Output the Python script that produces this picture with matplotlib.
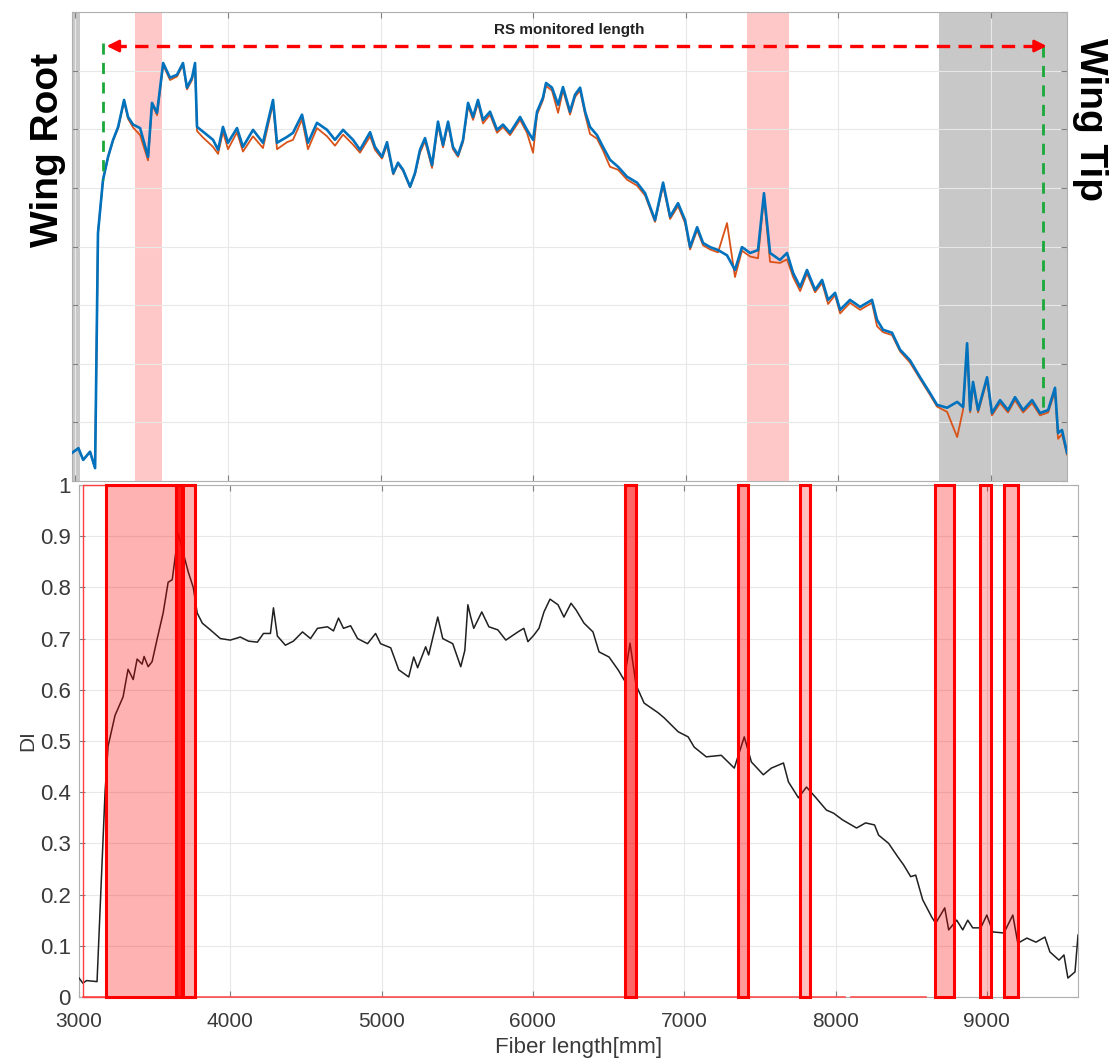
import matplotlib
matplotlib.use('Agg')
import matplotlib.pyplot as plt

plt.rcParams['font.family'] = ['Liberation Sans', 'DejaVu Sans']

# top panel: strain-like traces along the fibre (grid units, no labels)
top_x = [2978, 3020, 3051, 3096, 3129, 3148, 3181, 3214, 3247, 3280, 3319, 3345, 3378, 3424, 3476,
         3502, 3535, 3575, 3620, 3666, 3705, 3731, 3764, 3784, 3797, 3836, 3902, 3935, 3967, 4000,
         4059, 4098, 4164, 4229, 4295, 4321, 4387, 4426, 4485, 4524, 4583, 4649, 4701, 4754, 4819,
         4865, 4931, 4963, 5009, 5042, 5083, 5114, 5147, 5193, 5225, 5258, 5291, 5337, 5376, 5409,
         5442, 5474, 5507, 5540, 5573, 5606, 5638, 5671, 5717, 5763, 5802, 5848, 5914, 5959, 5999,
         6025, 6064, 6084, 6123, 6163, 6195, 6241, 6274, 6307, 6340, 6372, 6418, 6457, 6503, 6556,
         6615, 6680, 6733, 6798, 6851, 6897, 6949, 6995, 7028, 7074, 7113, 7159, 7211, 7270, 7322,
         7368, 7421, 7473, 7512, 7552, 7617, 7663, 7703, 7749, 7794, 7847, 7893, 7932, 7978, 8011,
         8076, 8142, 8220, 8253, 8292, 8351, 8404, 8469, 8535, 8600, 8646, 8712, 8778, 8817, 8843,
         8863, 8882, 8915, 8974, 9006, 9059, 9111, 9157, 9210, 9269, 9321, 9374, 9419, 9439, 9465,
         9498]
blue_y = [0.48, 0.56, 0.36, 0.50, 0.22, 4.23, 5.14, 5.53, 5.82, 6.04, 6.50, 6.21, 6.08, 6.02, 5.53,
          6.45, 6.28, 7.13, 6.88, 6.93, 7.13, 6.71, 6.88, 7.13, 6.04, 5.96, 5.82, 5.65, 6.04, 5.77,
          6.02, 5.70, 5.99, 5.77, 6.50, 5.77, 5.87, 5.94, 6.25, 5.77, 6.11, 5.99, 5.82, 5.99, 5.82,
          5.65, 5.95, 5.70, 5.53, 5.78, 5.25, 5.43, 5.31, 5.02, 5.25, 5.65, 5.85, 5.39, 6.13, 5.73,
          6.13, 5.70, 5.56, 5.82, 6.45, 6.21, 6.50, 6.16, 6.30, 5.99, 6.08, 5.94, 6.21, 5.99, 5.82,
          6.30, 6.54, 6.79, 6.71, 6.42, 6.72, 6.30, 6.59, 6.71, 6.30, 6.04, 5.90, 5.70, 5.48, 5.36,
          5.19, 5.09, 4.91, 4.45, 5.09, 4.51, 4.74, 4.45, 3.99, 4.33, 4.06, 3.99, 3.94, 3.85, 3.60,
          3.99, 3.89, 3.94, 4.91, 3.89, 3.77, 3.89, 3.55, 3.31, 3.60, 3.26, 3.43, 3.09, 3.21, 2.92,
          3.09, 2.97, 3.09, 2.75, 2.58, 2.53, 2.24, 2.06, 1.77, 1.50, 1.30, 1.25, 1.35, 1.26, 2.35,
          1.21, 1.69, 1.21, 1.77, 1.16, 1.38, 1.21, 1.43, 1.21, 1.38, 1.16, 1.21, 1.59, 0.82, 0.87,
          0.48]
orange_y = [0.48, 0.56, 0.36, 0.50, 0.22, 4.23, 5.14, 5.52, 5.81, 6.02, 6.48, 6.18, 6.03, 5.90, 5.47,
            6.43, 6.24, 7.10, 6.84, 6.90, 7.10, 6.68, 6.84, 7.10, 5.97, 5.86, 5.70, 5.58, 5.96, 5.66,
            5.95, 5.62, 5.88, 5.68, 6.44, 5.66, 5.78, 5.82, 6.17, 5.66, 6.02, 5.88, 5.72, 5.91, 5.74,
            5.60, 5.88, 5.65, 5.50, 5.73, 5.23, 5.41, 5.29, 5.01, 5.23, 5.60, 5.80, 5.34, 6.07, 5.69,
            6.09, 5.66, 5.53, 5.78, 6.40, 6.16, 6.45, 6.10, 6.25, 5.94, 6.04, 5.90, 6.16, 5.94, 5.60,
            6.25, 6.50, 6.74, 6.66, 6.28, 6.67, 6.25, 6.55, 6.66, 6.25, 5.92, 5.84, 5.64, 5.36, 5.31,
            5.14, 5.04, 4.87, 4.42, 5.04, 4.47, 4.69, 4.40, 3.95, 4.28, 4.02, 3.95, 3.90, 4.40, 3.48,
            3.93, 3.83, 3.80, 4.85, 3.74, 3.72, 3.78, 3.48, 3.24, 3.54, 3.22, 3.38, 3.02, 3.17, 2.86,
            3.04, 2.92, 3.04, 2.64, 2.54, 2.49, 2.21, 2.02, 1.74, 1.47, 1.27, 1.18, 0.75, 1.22, 2.28,
            1.17, 1.63, 1.17, 1.72, 1.12, 1.33, 1.17, 1.38, 1.17, 1.33, 1.12, 1.17, 1.53, 0.72, 0.80,
            0.45]

grey_spans = [(2978, 3030), (8660, 9498)]
pink_spans = [(3392, 3569), (7399, 7673)]
root_mark_x, root_mark_y = 3183, 5.14
tip_mark_x, tip_mark_y = 9342, 1.21
arrow_x = (3205, 9365)
arrow_y = 7.42

# bottom panel: damage index
di_x = [3000, 3025, 3050, 3119, 3172, 3192, 3238, 3291, 3324, 3358, 3384, 3417, 3430, 3457, 3483,
        3517, 3556, 3589, 3616, 3656, 3689, 3722, 3755, 3781, 3815, 3868, 3934, 4000, 4066, 4120,
        4179, 4219, 4265, 4285, 4311, 4364, 4417, 4477, 4530, 4576, 4642, 4682, 4715, 4748, 4795,
        4841, 4907, 4960, 4993, 5060, 5113, 5179, 5212, 5238, 5291, 5311, 5371, 5404, 5470, 5523,
        5550, 5570, 5589, 5609, 5662, 5709, 5768, 5821, 5901, 5940, 5967, 6007, 6040, 6073, 6113,
        6166, 6205, 6252, 6285, 6338, 6397, 6437, 6503, 6563, 6603, 6642, 6682, 6735, 6828, 6868,
        6960, 7026, 7066, 7146, 7245, 7331, 7397, 7444, 7523, 7576, 7656, 7689, 7755, 7808, 7868,
        7940, 7987, 8046, 8139, 8199, 8258, 8285, 8351, 8411, 8450, 8497, 8530, 8576, 8636, 8662,
        8722, 8748, 8801, 8841, 8874, 8907, 8960, 9000, 9040, 9113, 9172, 9205, 9265, 9325, 9384,
        9417, 9477, 9510, 9536, 9583, 9603]
di_y = [0.037, 0.027, 0.032, 0.030, 0.40, 0.49, 0.55, 0.586, 0.64, 0.62, 0.66, 0.65, 0.665, 0.645, 0.655,
        0.70, 0.75, 0.81, 0.815, 0.905, 0.867, 0.83, 0.80, 0.75, 0.73, 0.717, 0.70, 0.697, 0.703, 0.695,
        0.693, 0.71, 0.71, 0.76, 0.705, 0.687, 0.695, 0.713, 0.70, 0.72, 0.723, 0.715, 0.74, 0.72, 0.725,
        0.70, 0.69, 0.71, 0.69, 0.682, 0.639, 0.625, 0.664, 0.643, 0.684, 0.668, 0.742, 0.70, 0.69, 0.645,
        0.677, 0.766, 0.742, 0.72, 0.752, 0.723, 0.717, 0.697, 0.713, 0.72, 0.694, 0.707, 0.72, 0.752, 0.777,
        0.766, 0.742, 0.769, 0.756, 0.73, 0.713, 0.674, 0.664, 0.639, 0.619, 0.691, 0.609, 0.574, 0.555, 0.545,
        0.518, 0.508, 0.488, 0.469, 0.472, 0.447, 0.508, 0.459, 0.434, 0.447, 0.457, 0.42, 0.389, 0.41, 0.39,
        0.365, 0.359, 0.346, 0.33, 0.34, 0.336, 0.316, 0.30, 0.274, 0.258, 0.235, 0.238, 0.19, 0.156, 0.144,
        0.174, 0.131, 0.15, 0.131, 0.15, 0.135, 0.135, 0.16, 0.127, 0.125, 0.16, 0.105, 0.115, 0.107, 0.117,
        0.088, 0.072, 0.082, 0.037, 0.049, 0.121]

# detected regions (start, end) and how strongly they are filled
det_start = [3176, 3642, 3680, 6609, 7358, 7768, 8656, 8954, 9113]
det_end = [3642, 3687, 3768, 6682, 7424, 7834, 8781, 9026, 9205]
det_fill = [0.3, 0.9, 0.3, 0.6, 0.4, 0.25, 0.3, 0.25, 0.3]
thin_start, thin_end = 3025, 3177
baseline_spans = [(3025, 8060), (8100, 8600)]

xticks = [3000, 4000, 5000, 6000, 7000, 8000, 9000]
yticks = [0, 0.1, 0.2, 0.3, 0.4, 0.5, 0.6, 0.7, 0.8, 0.9, 1]
ytick_labels = ['0', '0.1', '0.2', '0.3', '0.4', '0.5', '0.6', '0.7', '0.8', '0.9', '1']

fig = plt.figure(figsize=(11.1, 10.64), dpi=100, facecolor='w')

# ---- top panel
ax1 = fig.add_axes([0.0649, 0.5479, 0.8964, 0.4408])
for a, b in grey_spans:
    ax1.axvspan(a, b, color='#c8c8c8', lw=0, zorder=0)
for a, b in pink_spans:
    ax1.axvspan(a, b, color='#ffc8c8', lw=0, zorder=0)
ax1.plot(top_x, orange_y, color='#D95319', lw=1.3, zorder=3)
ax1.plot(top_x, blue_y, color='#0072BD', lw=1.9, zorder=4)
ax1.set_xlim(2978, 9498)
ax1.set_ylim(0, 8)
ax1.set_xticks(xticks)
ax1.set_yticks(range(9))
ax1.tick_params(direction='in', top=True, right=True, labelbottom=False, labelleft=False,
                length=4, color='#808080')
ax1.grid(True, color='#e8e8e8', lw=0.8)
ax1.set_axisbelow(True)
for s in ax1.spines.values():
    s.set_color('#b0b0b0')

ax1.plot([root_mark_x, root_mark_x], [arrow_y + 0.05, root_mark_y], color='#1aa83a', lw=2,
         ls=(0, (4, 3)), zorder=5)
ax1.plot([tip_mark_x, tip_mark_x], [arrow_y, tip_mark_y], color='#1aa83a', lw=2,
         ls=(0, (4, 3)), zorder=5)
ax1.plot([arrow_x[0] + 40, arrow_x[1] - 40], [arrow_y, arrow_y], color='red', lw=2.4,
         ls=(0, (4, 2.5)), zorder=6)
for tip, back in [(arrow_x[0], arrow_x[0] + 60), (arrow_x[1], arrow_x[1] - 60)]:
    ax1.annotate('', xy=(tip, arrow_y), xytext=(back, arrow_y),
                 arrowprops=dict(arrowstyle='-|>', color='red', lw=2, mutation_scale=18,
                                 shrinkA=0, shrinkB=0), zorder=6)
ax1.text(6235, 7.70, 'RS monitored length', ha='center', va='center', fontsize=11,
         fontweight='bold', color='#222222')

fig.text(48 / 1110, 1 - 150 / 1064, 'Wing Root', rotation=90, ha='center', va='center',
         fontsize=28, fontweight='bold')
fig.text(1090 / 1110, 1 - 119 / 1064, 'Wing Tip', rotation=-90, ha='center', va='center',
         fontsize=28, fontweight='bold')

# ---- bottom panel
ax2 = fig.add_axes([0.0712, 0.063, 0.9, 0.4812])
ax2.plot(di_x, di_y, color='#202020', lw=1.1, zorder=3)
for a, b in baseline_spans:
    ax2.plot([a, b], [0, 0], color='#ff5050', lw=1.2, zorder=4, clip_on=False)
ax2.bar(thin_start, 1, width=thin_end - thin_start, align='edge', facecolor='none',
        edgecolor='#ff4040', lw=1.0, zorder=4, clip_on=False)
for a, b, f in zip(det_start, det_end, det_fill):
    ax2.bar(a, 1, width=b - a, align='edge', facecolor=(1, 0, 0, f), edgecolor='#ff0000',
            lw=2.2, zorder=5, clip_on=False)
ax2.set_xlim(3000, 9603)
ax2.set_ylim(0, 1)
ax2.set_xticks(xticks)
ax2.set_yticks(yticks)
ax2.set_yticklabels(ytick_labels)
ax2.tick_params(direction='in', top=True, right=True, length=4, color='#808080',
                labelcolor='#3a3a3a')
ax2.tick_params(axis='x', labelsize=15, pad=11)
ax2.tick_params(axis='y', labelsize=16, pad=6)
ax2.grid(True, color='#e8e8e8', lw=0.8)
ax2.set_axisbelow(True)
for s in ax2.spines.values():
    s.set_color('#b0b0b0')
ax2.set_xlabel('Fiber length[mm]', fontsize=16, color='#3a3a3a', labelpad=4)
ax2.set_ylabel('DI', fontsize=15, color='#3a3a3a', labelpad=2)

plt.savefig('out.png', dpi=100)
